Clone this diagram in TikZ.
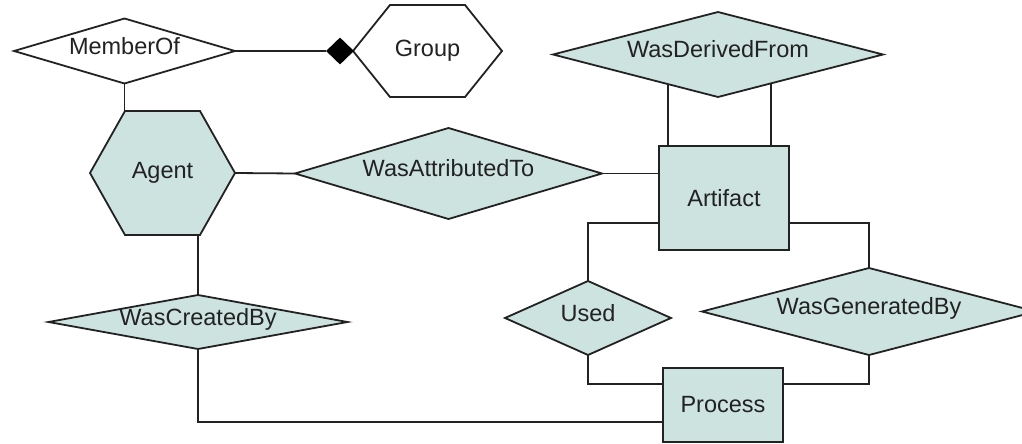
\documentclass[tikz,border=0pt]{standalone}
\usepackage{fontspec}
\setmainfont{Liberation Sans}
\usetikzlibrary{shapes.geometric,calc,backgrounds}
\definecolor{ent}{HTML}{CDE3DF}
\definecolor{ink}{HTML}{222222}
\newcommand\hexbg[3]{%
  \begin{scope}[on background layer]
    \draw[line width=1.8pt, draw=ink, fill=#3, line join=miter]
      ([xshift=#2]#1.north west) -- ([xshift=-#2]#1.north east) -- (#1.east)
      -- ([xshift=-#2]#1.south east) -- ([xshift=#2]#1.south west) -- (#1.west) -- cycle;
  \end{scope}}
\begin{document}
\begin{tikzpicture}[x=1pt,y=-1pt,
  every node/.style={font=\fontsize{23.5}{28}\selectfont, text=ink},
  rel/.style={shape=diamond, draw=ink, line width=1.8pt, inner sep=0pt, fill=ent,
    text height=1.6ex, text depth=0.3ex, outer sep=0pt},
  hexnode/.style={shape=rectangle, inner sep=0pt, outer sep=0pt},
  box/.style={shape=rectangle, draw=ink, line width=1.8pt, fill=ent, inner sep=0pt, outer sep=0pt},
  link/.style={draw=ink, line width=1.8pt}]
\useasboundingbox (0,0) rectangle (1022,444);

% nodes
\node[rel, fill=white, minimum width=221pt, minimum height=65pt] (mo) at (124.5,51) {\makebox[0pt]{MemberOf}};
\node[hexnode, minimum width=149pt, minimum height=92pt] (grp) at (427.5,51) {Group};
\hexbg{grp}{37pt}{white}
\node[shape=diamond, fill=black, inner sep=0pt, minimum width=28pt, minimum height=27pt] (blk) at (340,51) {};
\node[hexnode, minimum width=145pt, minimum height=124pt] (agent) at (162.5,173) {Agent};
\hexbg{agent}{35pt}{ent}
\node[rel, minimum width=307pt, minimum height=91pt] (wat) at (448.5,173.5) {\makebox[0pt]{WasAttributedTo}};
\node[rel, minimum width=330pt, minimum height=85pt] (wdf) at (718,54.5) {\makebox[0pt]{WasDerivedFrom}};
\node[box, minimum width=130pt, minimum height=104pt] (art) at (724,198) {Artifact};
\node[rel, minimum width=166pt, minimum height=74pt] (used) at (588,318) {\makebox[0pt]{Used}};
\node[rel, minimum width=334pt, minimum height=87pt] (wgb) at (869,311.5) {\makebox[0pt]{WasGeneratedBy}};
\node[rel, minimum width=299pt, minimum height=54pt] (wcb) at (198,322) {\makebox[0pt]{WasCreatedBy}};
\node[box, minimum width=120pt, minimum height=74pt] (proc) at (723,405) {Process};

% connectors
\draw[link] (mo.south) -- (mo.south |- agent.north);
\draw[link] (mo.east) -- (blk.west);
\draw[link] (agent.east) -- (wat.west);
\draw[link] (wat.east) -- (wat.east -| art.west);
\coordinate (d1) at ($(wdf.west)!0.697!(wdf.south)$);
\coordinate (d2) at ($(wdf.south)!0.321!(wdf.east)$);
\draw[link] (d1) -- (d1 |- art.north);
\draw[link] (d2) -- (d2 |- art.north);
\draw[link] ([yshift=-25pt]art.west) -| (used.north);
\draw[link] ([yshift=-25pt]art.east) -| (wgb.north);
\draw[link] (used.south) |- ([yshift=21pt]proc.west);
\draw[link] (wgb.south) |- ([yshift=21pt]proc.east);
\draw[link] (wcb.north) -- (wcb.north |- agent.south);
\draw[link] (wcb.south) |- ([yshift=-17pt]proc.west);
\end{tikzpicture}
\end{document}
